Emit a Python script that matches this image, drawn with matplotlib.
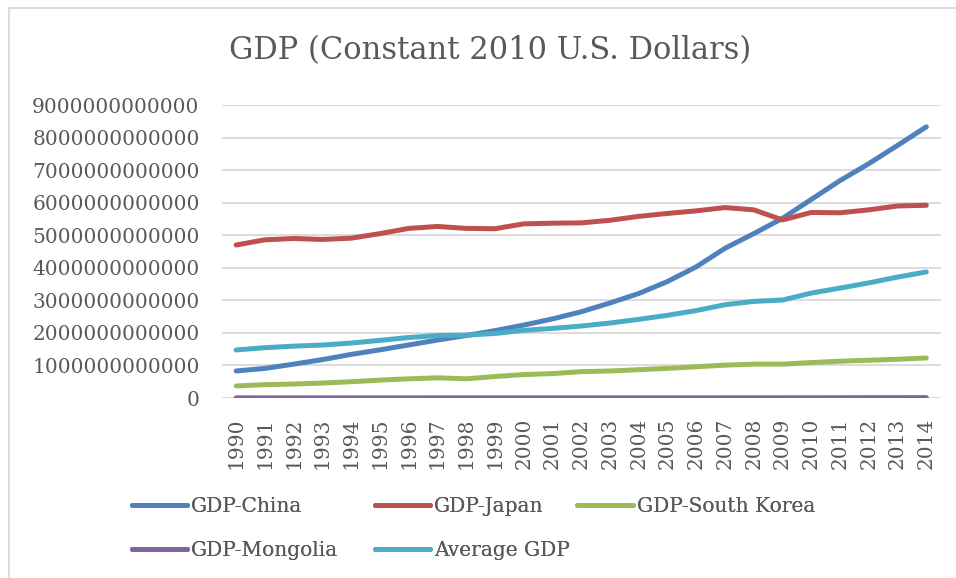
import matplotlib
matplotlib.use('Agg')
import matplotlib.pyplot as plt
from matplotlib.lines import Line2D
from matplotlib.ticker import FuncFormatter, MultipleLocator

years = [str(y) for y in range(1990, 2015)]

# values in 1e12 constant 2010 USD
gdp_china = [0.83, 0.91, 1.04, 1.18, 1.34, 1.48, 1.63, 1.78, 1.92, 2.07, 2.24, 2.43, 2.65,
             2.92, 3.21, 3.58, 4.03, 4.60, 5.05, 5.52, 6.10, 6.68, 7.20, 7.76, 8.33]
gdp_japan = [4.70, 4.86, 4.90, 4.87, 4.91, 5.05, 5.21, 5.27, 5.21, 5.20, 5.35, 5.37, 5.38,
             5.46, 5.58, 5.67, 5.75, 5.85, 5.78, 5.47, 5.70, 5.69, 5.78, 5.90, 5.92]
gdp_korea = [0.37, 0.41, 0.43, 0.46, 0.50, 0.55, 0.59, 0.62, 0.59, 0.66, 0.72, 0.75, 0.81,
             0.83, 0.87, 0.91, 0.96, 1.01, 1.04, 1.04, 1.09, 1.13, 1.16, 1.19, 1.23]
gdp_mongolia = [0.0040, 0.0036, 0.0033, 0.0032, 0.0033, 0.0035, 0.0036, 0.0038, 0.0039, 0.0040,
                0.0040, 0.0041, 0.0043, 0.0046, 0.0051, 0.0055, 0.0059, 0.0065, 0.0071, 0.0070,
                0.0072, 0.0084, 0.0094, 0.0104, 0.0112]
gdp_average = [1.476, 1.546, 1.593, 1.628, 1.688, 1.771, 1.858, 1.918, 1.931, 1.983, 2.078,
               2.138, 2.211, 2.303, 2.416, 2.541, 2.686, 2.866, 2.969, 3.009, 3.224, 3.377,
               3.537, 3.715, 3.873]

series = [
    ('GDP-China', gdp_china, '#4F81BD'),
    ('GDP-Japan', gdp_japan, '#C0504D'),
    ('GDP-South Korea', gdp_korea, '#9BBB59'),
    ('GDP-Mongolia', gdp_mongolia, '#8064A2'),
    ('Average GDP', gdp_average, '#4BACC6'),
]

plt.rcParams['font.family'] = ['DejaVu Serif']
txt = '#595959'

fig = plt.figure(figsize=(9.56, 5.78), dpi=100)
ax = fig.add_axes([0.232, 0.3114, 0.752, 0.5069])

x = list(range(len(years)))
lines = {}
for name, vals, col in series:
    lines[name] = ax.plot(x, [v * 1e12 for v in vals], color=col, lw=3.6,
                          solid_capstyle='round', label=name)[0]

ax.set_xlim(-0.5, len(years) - 0.5)
ax.set_ylim(0, 9e12)
ax.yaxis.set_major_locator(MultipleLocator(1e12))
ax.yaxis.set_major_formatter(FuncFormatter(lambda v, p: '%d' % round(v)))
ax.set_xticks(x)
ax.set_xticklabels(years, rotation=90)
ax.tick_params(length=0, colors=txt, labelsize=14.5)
ax.tick_params(axis='y', pad=16)
ax.tick_params(axis='x', pad=14)
ax.grid(axis='y', color='#D9D9D9', lw=1.3)
ax.set_axisbelow(True)
for s in ax.spines.values():
    s.set_visible(False)

fig.text(0.513, 0.912, 'GDP (Constant 2010 U.S. Dollars)', ha='center', va='center',
         fontsize=22, color=txt)

# legend laid out row-wise like Excel: one legend per column
legend_cols = [['GDP-China', 'GDP-Mongolia'], ['GDP-Japan', 'Average GDP'], ['GDP-South Korea']]
col_x = [0.138, 0.392, 0.604]
for names, lx in zip(legend_cols, col_x):
    leg = fig.legend([lines[n] for n in names], names, loc='upper left',
                     bbox_to_anchor=(lx, 0.140), frameon=False, fontsize=14.5,
                     labelcolor=txt, handlelength=2.75, handletextpad=0.2,
                     labelspacing=1.25, borderaxespad=0, borderpad=0)
    fig.add_artist(leg)

# chart area border (top and left visible)
fig.add_artist(Line2D([0.009, 1.0], [0.986, 0.986], color='#D9D9D9', lw=1.3))
fig.add_artist(Line2D([0.009, 0.009], [0.0, 0.986], color='#D9D9D9', lw=1.3))

fig.savefig('out.png', dpi=100)
